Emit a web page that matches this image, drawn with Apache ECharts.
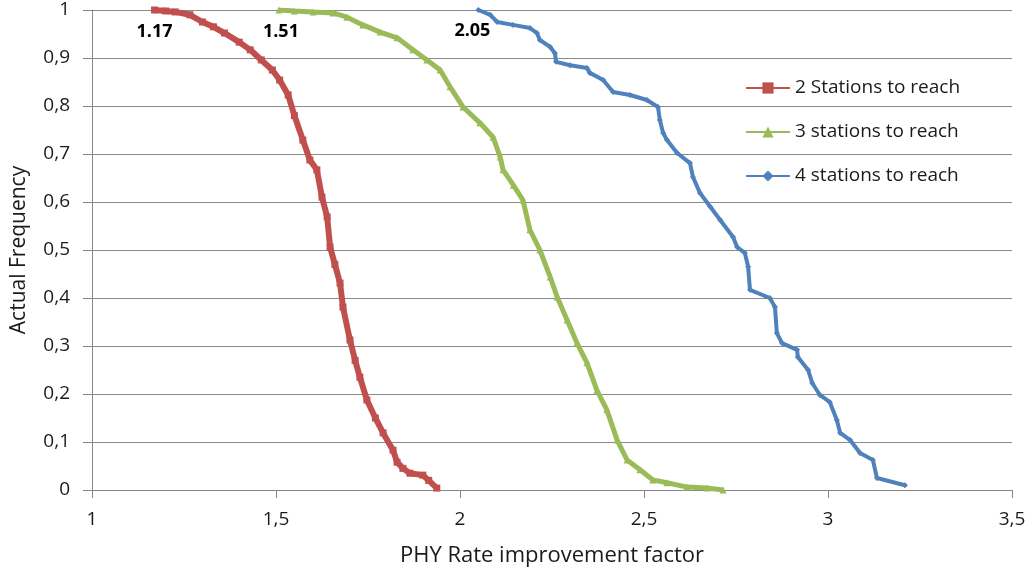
<!DOCTYPE html>
<html>
<head>
<meta charset="utf-8">
<script src="https://cdn.jsdelivr.net/npm/echarts@6/dist/echarts.min.js"></script>
<style>html,body{margin:0;padding:0;background:#fff}#c{width:1032px;height:577px}</style>
</head>
<body>
<div id="c"></div>
<script>
var seriesNames = ['2 Stations to reach', '3 stations to reach', '4 stations to reach'];
var startLabels = ['1.17', '1.51', '2.05'];

var s2X = [1.17, 1.20, 1.226, 1.266, 1.30, 1.33, 1.36, 1.40, 1.43, 1.46, 1.49, 1.51, 1.533, 1.55, 1.573, 1.592, 1.611, 1.625, 1.639, 1.647, 1.660, 1.674, 1.682, 1.701, 1.715, 1.728, 1.747, 1.770, 1.791, 1.818, 1.829, 1.845, 1.864, 1.899, 1.915, 1.937];
var s2Y = [1.0, 0.998, 0.996, 0.99, 0.975, 0.965, 0.952, 0.933, 0.917, 0.896, 0.875, 0.854, 0.823, 0.78, 0.729, 0.6875, 0.667, 0.61, 0.569, 0.506, 0.47, 0.431, 0.381, 0.3125, 0.27, 0.235, 0.1875, 0.15, 0.119, 0.083, 0.058, 0.045, 0.035, 0.031, 0.02, 0.004];

var s3X = [1.508, 1.55, 1.601, 1.655, 1.693, 1.736, 1.783, 1.829, 1.872, 1.910, 1.946, 1.973, 2.008, 2.054, 2.090, 2.109, 2.117, 2.145, 2.171, 2.190, 2.217, 2.245, 2.264, 2.291, 2.318, 2.345, 2.372, 2.399, 2.427, 2.454, 2.489, 2.524, 2.5625, 2.617, 2.671, 2.715];
var s3Y = [1.0, 0.998, 0.996, 0.994, 0.985, 0.969, 0.954, 0.942, 0.917, 0.896, 0.875, 0.840, 0.798, 0.765, 0.735, 0.694, 0.667, 0.635, 0.604, 0.542, 0.5, 0.444, 0.402, 0.354, 0.306, 0.265, 0.208, 0.167, 0.104, 0.0625, 0.042, 0.021, 0.015, 0.006, 0.004, 0.0];

var s4X = [2.05, 2.082, 2.101, 2.144, 2.190, 2.209, 2.217, 2.245, 2.258, 2.261, 2.299, 2.345, 2.353, 2.389, 2.416, 2.462, 2.508, 2.538, 2.543, 2.552, 2.5625, 2.590, 2.625, 2.633, 2.652, 2.68, 2.707, 2.742, 2.753, 2.774, 2.783, 2.788, 2.842, 2.856, 2.861, 2.875, 2.916, 2.918, 2.946, 2.957, 2.978, 3.005, 3.024, 3.033, 3.060, 3.087, 3.122, 3.133, 3.209];
var s4Y = [1.0, 0.990, 0.975, 0.969, 0.9625, 0.952, 0.9375, 0.923, 0.910, 0.892, 0.885, 0.879, 0.869, 0.854, 0.829, 0.823, 0.8125, 0.798, 0.771, 0.744, 0.729, 0.702, 0.681, 0.652, 0.619, 0.59, 0.5625, 0.527, 0.506, 0.494, 0.465, 0.417, 0.4, 0.381, 0.327, 0.306, 0.292, 0.277, 0.25, 0.223, 0.198, 0.183, 0.146, 0.119, 0.104, 0.077, 0.0625, 0.025, 0.01];

var colors = ['#C0504D', '#9BBB59', '#4F81BD'];
var FONT = '"Open Sans", "Noto Sans", sans-serif';
var TXT = '#1a1a1a';

function pairs(xs, ys, lbl, off) {
  return xs.map(function (x, i) {
    var d = { value: [x, ys[i]] };
    if (i === 0) {
      d.label = { show: true, formatter: lbl, position: 'bottom', distance: 9, offset: off,
        fontSize: 18, fontWeight: 'bold', color: '#000', fontFamily: FONT };
    }
    return d;
  });
}
function comma(v) { return String(v).replace('.', ','); }

var chart = echarts.init(document.getElementById('c'), null, { renderer: 'canvas' });
chart.setOption({
  animation: false,
  backgroundColor: '#fff',
  grid: { left: 92, right: 20, top: 10, bottom: 87, containLabel: false },
  legend: {
    orient: 'vertical', left: 740, top: 70, itemGap: 18, itemWidth: 44, itemHeight: 14,
    textStyle: { fontSize: 19, color: TXT, fontFamily: FONT, lineHeight: 26 },
    data: seriesNames
  },
  xAxis: {
    type: 'value', min: 1, max: 3.5, interval: 0.5,
    name: 'PHY Rate improvement factor', nameLocation: 'middle', nameGap: 55,
    nameTextStyle: { fontSize: 22, color: TXT, fontFamily: FONT },
    axisLine: { show: true, lineStyle: { color: '#868686', width: 1 } },
    axisTick: { show: true, length: 8, lineStyle: { color: '#868686' } },
    axisLabel: { formatter: comma, fontSize: 19, color: TXT, margin: 20, fontFamily: FONT },
    splitLine: { show: false }
  },
  yAxis: {
    type: 'value', min: 0, max: 1, interval: 0.1,
    name: 'Actual Frequency', nameLocation: 'middle', nameGap: 62, nameRotate: 90,
    nameTextStyle: { fontSize: 21, color: TXT, fontFamily: FONT },
    axisLine: { show: true, lineStyle: { color: '#868686', width: 1 } },
    axisTick: { show: true, length: 9, lineStyle: { color: '#868686' } },
    axisLabel: { formatter: function (v) { return comma(Math.round(v * 10) / 10); }, fontSize: 19, color: TXT, margin: 22, fontFamily: FONT },
    splitLine: { show: true, lineStyle: { color: '#8a8a8a', width: 1 } }
  },
  series: [
    { name: seriesNames[0], type: 'line', data: pairs(s2X, s2Y, startLabels[0], [0, 0]),
      color: colors[0], symbol: 'rect', symbolSize: 7, showAllSymbol: true,
      lineStyle: { width: 6, color: colors[0] }, itemStyle: { color: colors[0] } },
    { name: seriesNames[1], type: 'line', data: pairs(s3X, s3Y, startLabels[1], [2, 0]),
      color: colors[1], symbol: 'triangle', symbolSize: 7, showAllSymbol: true,
      lineStyle: { width: 5, color: colors[1] }, itemStyle: { color: colors[1] } },
    { name: seriesNames[2], type: 'line', data: pairs(s4X, s4Y, startLabels[2], [-6, 0]),
      color: colors[2], symbol: 'diamond', symbolSize: 6, showAllSymbol: true,
      lineStyle: { width: 4, color: colors[2] }, itemStyle: { color: colors[2] } }
  ]
});
</script>
</body>
</html>
